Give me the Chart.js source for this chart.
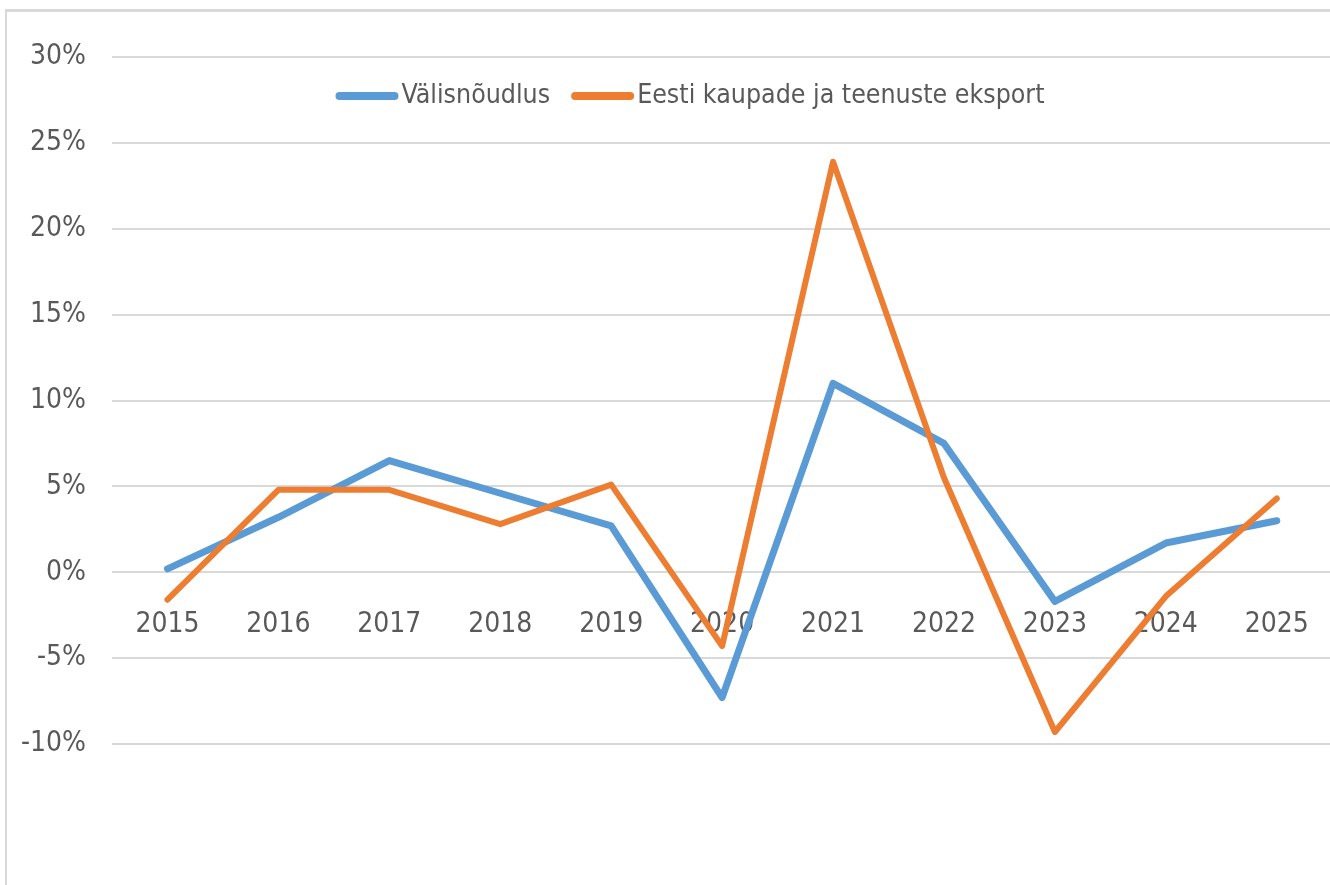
<!DOCTYPE html>
<html lang="et">
<head>
<meta charset="utf-8">
<title>Välisnõudlus ja eksport</title>
<script src="https://cdn.jsdelivr.net/npm/chart.js@4.4.1/dist/chart.umd.min.js"></script>
<style>
  html, body { margin: 0; padding: 0; background: #fff; overflow: hidden; }
  #frame {
    position: absolute; left: 5px; top: 9px; width: 1400px; height: 950px;
    border-left: 2px solid #d9d9d9; border-top: 3px solid #d9d9d9;
  }
  #wrap { position: absolute; left: 0; top: 0; width: 1345px; height: 885px; }
</style>
</head>
<body>
<div id="frame"></div>
<div id="wrap"><canvas id="growthChart" width="1345" height="885"></canvas></div>
<script>
// aastad ja kasvumäärad (%)
const years = ['2015', '2016', '2017', '2018', '2019', '2020', '2021', '2022', '2023', '2024', '2025'];
const valisnoudlus = [0.2, 3.2, 6.5, 4.6, 2.7, -7.3, 11.0, 7.5, -1.7, 1.7, 3.0];
const eksport = [-1.6, 4.8, 4.8, 2.8, 5.1, -4.3, 23.9, 5.5, -9.3, -1.4, 4.3];

const yMin = -10;
const yMax = 30;
const yStep = 5;

const FONT = "'DejaVu Sans Condensed', 'Liberation Sans Narrow', 'Liberation Sans', sans-serif";
const TEXT_COLOR = '#595959';
const GRID_COLOR = '#d9d9d9';

// legend joonistatakse graafikuala sisse, ülemise ruudujoone alla
const insideLegend = {
    id: 'insideLegend',
    afterDraw(chart, args, opts) {
        const ctx = chart.ctx;
        ctx.save();
        ctx.font = opts.fontSize + 'px ' + FONT;
        ctx.textBaseline = 'middle';
        ctx.textAlign = 'left';
        const items = chart.data.datasets.map(ds => ({
            label: ds.label,
            color: ds.borderColor,
            w: ctx.measureText(ds.label).width
        }));
        const total = items.reduce((s, it) => s + opts.lineLen + opts.textGap + it.w, 0)
            + opts.itemGap * (items.length - 1);
        let x = opts.centerX - total / 2;
        items.forEach(it => {
            ctx.strokeStyle = it.color;
            ctx.lineWidth = opts.lineWidth;
            ctx.lineCap = 'round';
            ctx.beginPath();
            ctx.moveTo(x + opts.lineWidth / 2, opts.y);
            ctx.lineTo(x + opts.lineLen - opts.lineWidth / 2, opts.y);
            ctx.stroke();
            x += opts.lineLen + opts.textGap;
            ctx.fillStyle = TEXT_COLOR;
            ctx.fillText(it.label, x, opts.y);
            x += it.w + opts.itemGap;
        });
        ctx.restore();
    }
};

document.addEventListener('DOMContentLoaded', () => {
    const ctx = document.getElementById('growthChart').getContext('2d');
    new Chart(ctx, {
        type: 'line',
        data: {
            labels: years,
            datasets: [{
                label: 'Välisnõudlus',
                data: valisnoudlus,
                borderColor: '#5B9BD5',
                borderWidth: 7,
                order: 1
            }, {
                label: 'Eesti kaupade ja teenuste eksport',
                data: eksport,
                borderColor: '#ED7D31',
                borderWidth: 6,
                order: 0
            }]
        },
        options: {
            responsive: false,
            animation: false,
            // x-telg on nulljoonel, seega all jääb tühi ala
            layout: { padding: { top: 57, right: 4, left: 0, bottom: 141 } },
            elements: {
                point: { radius: 0, hoverRadius: 0 },
                line: { tension: 0, borderCapStyle: 'round', borderJoinStyle: 'round', fill: false }
            },
            scales: {
                x: {
                    position: { y: 0 },
                    offset: true,
                    grid: { display: false, drawTicks: false },
                    border: { display: false },
                    ticks: {
                        color: TEXT_COLOR,
                        font: { family: FONT, size: 28 },
                        padding: 36,
                        maxRotation: 0,
                        autoSkip: false
                    }
                },
                y: {
                    min: yMin,
                    max: yMax,
                    grid: { color: GRID_COLOR, lineWidth: 2, drawTicks: false },
                    border: { display: false },
                    ticks: {
                        stepSize: yStep,
                        color: TEXT_COLOR,
                        font: { family: FONT, size: 28 },
                        padding: 26,
                        callback: v => v + '%'
                    },
                    afterFit(scale) { scale.width = 112; }
                }
            },
            plugins: {
                legend: { display: false },
                tooltip: { enabled: false },
                insideLegend: {
                    centerX: 690,
                    y: 96,
                    fontSize: 26.5,
                    lineLen: 63,
                    lineWidth: 8,
                    textGap: 3,
                    itemGap: 21
                }
            }
        },
        plugins: [insideLegend]
    });
});
</script>
</body>
</html>
